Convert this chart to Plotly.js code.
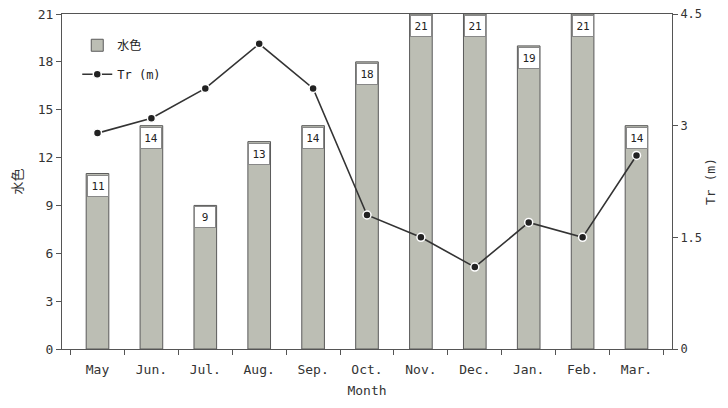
<!DOCTYPE html>
<html>
<head>
<meta charset="utf-8">
<script src="https://cdn.plot.ly/plotly-3.0.1.min.js"></script>
<style>
  html, body { margin: 0; padding: 0; background: #fff; }
  #chart { width: 728px; height: 408px; }
</style>
</head>
<body>
<div id="chart"></div>
<script>
// Monthly water colour index (bars, left axis) and transparency Tr in metres (line, right axis)
const months = ["May", "Jun.", "Jul.", "Aug.", "Sep.", "Oct.", "Nov.", "Dec.", "Jan.", "Feb.", "Mar."];
const waterColour = [11, 14, 9, 13, 14, 18, 21, 21, 19, 21, 14];
const transparency = [2.9, 3.1, 3.5, 4.1, 3.5, 1.8, 1.5, 1.1, 1.7, 1.5, 2.6];
const leftTicks = [0, 3, 6, 9, 12, 15, 18, 21];
const rightTicks = [0, 1.5, 3, 4.5];

const FONT = "DejaVu Sans Mono, Noto Sans CJK JP, sans-serif";
const AXIS = "#555";

const bars = {
  type: "bar",
  name: "水色",
  x: months,
  y: waterColour,
  width: 0.42,
  marker: { color: "#bcbeb4", line: { color: "#5a5a5a", width: 1 } },
  legendgroup: "a",
  hoverinfo: "x+y"
};

const line = {
  type: "scatter",
  mode: "lines+markers",
  name: "Tr (m)",
  x: months,
  y: transparency,
  yaxis: "y2",
  line: { color: "#333", width: 1.6 },
  marker: { symbol: "circle", size: 8, color: "#222", line: { color: "#fff", width: 1.5 } },
  legendgroup: "b"
};

// value boxes sitting just inside the top of each bar
const labels = months.map((m, i) => ({
  x: m,
  y: waterColour[i],
  xref: "x",
  yref: "y",
  text: String(waterColour[i]),
  showarrow: false,
  yanchor: "top",
  yshift: -1,
  width: 18,
  height: 18,
  bgcolor: "#fff",
  bordercolor: "#888",
  borderwidth: 1,
  borderpad: 1,
  font: { family: FONT, size: 11, color: "#222" }
}));

const layout = {
  width: 728,
  height: 408,
  margin: { l: 62, r: 56, t: 14, b: 59 },
  paper_bgcolor: "#fff",
  plot_bgcolor: "#fff",
  font: { family: FONT, size: 12, color: "#333" },
  showlegend: true,
  legend: {
    x: 0.025, y: 0.95, xanchor: "left", yanchor: "top",
    bgcolor: "rgba(0,0,0,0)",
    tracegroupgap: 10,
    font: { family: FONT, size: 12, color: "#222" }
  },
  bargap: 0.58,
  xaxis: {
    type: "category",
    tickson: "boundaries",
    ticks: "outside",
    ticklen: 5,
    tickcolor: AXIS,
    ticklabelstandoff: 8,
    showline: true,
    linecolor: AXIS,
    linewidth: 1,
    mirror: true,
    showgrid: false,
    tickfont: { family: FONT, size: 13, color: "#333" },
    title: { text: "Month", font: { family: FONT, size: 13, color: "#333" }, standoff: 10 }
  },
  yaxis: {
    range: [0, 21],
    tickvals: leftTicks,
    ticks: "outside",
    ticklen: 5,
    tickcolor: AXIS,
    showline: true,
    linecolor: AXIS,
    linewidth: 1,
    showgrid: false,
    zeroline: false,
    tickfont: { family: FONT, size: 13, color: "#333" },
    title: { text: "水色", font: { family: FONT, size: 13, color: "#333" }, standoff: 12 }
  },
  yaxis2: {
    overlaying: "y",
    side: "right",
    range: [0, 4.5],
    tickvals: rightTicks,
    ticktext: rightTicks.map(v => String(v)),
    ticks: "outside",
    ticklen: 5,
    tickcolor: AXIS,
    showline: true,
    linecolor: AXIS,
    linewidth: 1,
    showgrid: false,
    zeroline: false,
    tickfont: { family: FONT, size: 12, color: "#333" },
    title: { text: "Tr (m)", font: { family: FONT, size: 13, color: "#333" }, standoff: 4 }
  },
  annotations: labels
};

Plotly.newPlot("chart", [bars, line], layout, { displayModeBar: false, staticPlot: true });
</script>
</body>
</html>
